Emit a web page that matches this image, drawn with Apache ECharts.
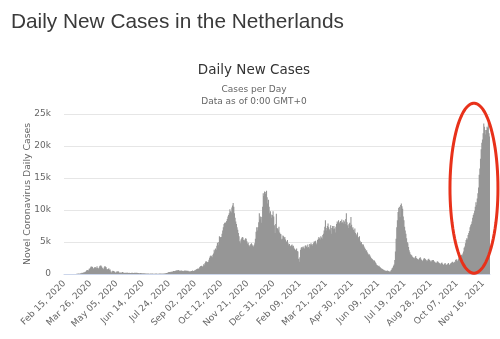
<!DOCTYPE html>
<html>
<head>
<meta charset="utf-8">
<title>Daily New Cases in the Netherlands</title>
<script src="https://cdn.jsdelivr.net/npm/echarts@6/dist/echarts.min.js"></script>
<style>
  html, body { margin: 0; padding: 0; background: #ffffff; }
  #chart { width: 500px; height: 339px; }
</style>
</head>
<body>
<div id="chart"></div>
<script>
// First day of the series (UTC); one value per day after that.
const startDate = Date.UTC(2020, 1, 15);

// Daily new cases, month by month
const cases2020Feb = [0,0,0,0,0,0,0,0,0,0,0,0,1,1,5];
const cases2020Mar = [6,8,5,14,44,46,60,77,56,61,121,111,190,155,176,278,292,346,409,534,637,573,545,811,852,1019,1172,1159,1104,884,845];
const cases2020Apr = [1019,1083,1026,904,1224,952,777,969,1213,1335,1316,1174,964,868,734,1061,1235,1140,1066,750,729,797,887,655,708,400,171,386,514,475];
const cases2020May = [445,335,232,199,387,319,455,335,228,145,232,233,235,319,244,196,154,176,193,165,235,170,171,187,139,143,165,196,211,144,172];
const cases2020Jun = [184,130,209,176,194,142,157,119,131,165,146,106,108,107,120,72,129,91,60,88,61,70,77,56,51,69,57,61,69,44];
const cases2020Jul = [52,46,61,47,84,54,39,34,65,72,68,49,83,41,59,90,68,135,100,150,160,210,260,330,300,280,340,360,390,410,450];
const cases2020Aug = [470,420,500,560,600,540,610,580,520,470,540,560,510,480,430,500,540,520,560,470,490,520,430,390,420,400,460,480,540,480,450];
const cases2020Sep = [560,600,650,730,800,870,780,900,1100,1230,1250,1300,1150,1200,1540,1370,1700,1970,2000,1890,1820,1900,2230,2540,2780,2900,2760,2610,3000,3200];
const cases2020Oct = [3800,3500,4000,3800,4400,4900,4500,5000,5900,5800,5700,5800,6300,6800,7300,7800,8000,8000,8100,8300,8600,9000,9200,9500,10100,9800,9600,10400,10700,11100,10500];
const cases2020Nov = [9500,8800,8200,7800,7300,6900,6400,5900,5100,4800,5400,5600,5800,5700,5300,5200,5400,5600,5500,5100,4700,4900,4500,4300,4500,4700,4800,4600,4400,4200];
const cases2020Dec = [4500,4800,5500,6600,7300,6800,7300,8100,9500,8500,9000,8000,8900,10500,12600,12200,12900,12500,12800,13000,12000,11000,11600,10500,9500,9800,9300,8800,9200,9800,9000];
const cases2021Jan = [7600,6400,7800,9400,7200,7100,6800,7400,6500,6300,6200,5400,5500,6000,5900,5600,5800,5400,5000,5100,5300,4800,4500,4700,4400,4300,4500,4600,4300,4400,4100];
const cases2021Feb = [3900,3700,3800,4000,3600,3500,2400,1900,2600,3800,4100,4200,4000,4300,4100,3900,4400,4500,4300,4100,4600,4200,4000,4700,4500,4800,4600,4400];
const cases2021Mar = [4700,4900,5100,5000,5200,4800,4600,5300,5500,5800,5600,5400,5900,5700,5500,6100,6300,6800,7400,8400,7200,6800,7500,7900,7300,7000,6800,7600,6300,7200,7500];
const cases2021Apr = [7000,7500,7100,6500,7400,7800,8200,8000,8400,8100,7900,8300,8000,8500,8100,7900,8400,8200,7800,8600,9500,8100,7600,7200,7800,8000,7500,8900,7700,7100];
const cases2021May = [7300,6900,6600,7100,6400,6200,6000,6500,5800,5600,5900,5200,4900,5000,4700,4500,4600,4300,4100,3900,3600,3700,3400,3200,3000,3100,2900,2700,2500,2400,2300];
const cases2021Jun = [2200,2000,2100,1900,1700,1500,1400,1300,1200,1300,1100,1000,900,850,800,700,650,600,550,520,500,480,560,470,420,380,360,550,650,900];
const cases2021Jul = [1000,1300,1500,2200,3500,5500,7300,8400,9700,10300,10500,8900,10800,11000,10600,10200,9000,8400,7400,6800,6300,5600,5000,4800,4200,3700,3400,3100,3000,2900,2700];
const cases2021Aug = [2600,2500,2400,2600,2800,2500,2300,2400,2200,2300,2500,2600,2400,2200,2100,2000,2300,2500,2400,2300,2200,2000,2100,2300,2400,2200,2100,1900,2000,2200,2100];
const cases2021Sep = [2200,2000,1900,1800,1700,1800,2000,1900,1800,1700,1600,1500,1700,1800,1600,1500,1400,1600,1700,1500,1400,1500,1600,1700,1500,1400,1600,1700,1800,1900];
const cases2021Oct = [1800,1700,1900,1800,2200,2300,2100,2000,2300,2600,2500,2400,2800,3000,2900,3200,3500,4100,4300,4800,5300,5600,5400,6100,6400,6700,7300,7600,7800,8200,8800];
const cases2021Nov = [9200,9500,9900,10500,11200,10800,11800,12600,13500,15500,16500,18000,19500,20500,21000,22000,23500,23000,22500,21800,22500,23000,22800,23600,22000,21500];

// Dates that carry a label on the x axis
const xTickLabels = ['Feb 15, 2020','Mar 26, 2020','May 05, 2020','Jun 14, 2020','Jul 24, 2020','Sep 02, 2020','Oct 12, 2020','Nov 21, 2020','Dec 31, 2020','Feb 09, 2021','Mar 21, 2021','Apr 30, 2021','Jun 09, 2021','Jul 19, 2021','Aug 28, 2021','Oct 07, 2021','Nov 16, 2021'];
// Value-axis ticks
const yTicks = [0, 5000, 10000, 15000, 20000, 25000];
const yTickLabels = ['0', '5k', '10k', '15k', '20k', '25k'];

const dailyCases = [].concat(
  cases2020Feb, cases2020Mar, cases2020Apr, cases2020May, cases2020Jun, cases2020Jul,
  cases2020Aug, cases2020Sep, cases2020Oct, cases2020Nov, cases2020Dec,
  cases2021Jan, cases2021Feb, cases2021Mar, cases2021Apr, cases2021May, cases2021Jun,
  cases2021Jul, cases2021Aug, cases2021Sep, cases2021Oct, cases2021Nov
);

const monthNames = ['Jan','Feb','Mar','Apr','May','Jun','Jul','Aug','Sep','Oct','Nov','Dec'];
function formatDay(t) {
  const d = new Date(t);
  return monthNames[d.getUTCMonth()] + ' ' + String(d.getUTCDate()).padStart(2, '0') + ', ' + d.getUTCFullYear();
}
const dayLabels = dailyCases.map((_, i) => formatDay(startDate + i * 86400000));

const uiFont = '"DejaVu Sans", Verdana, sans-serif';
const chart = echarts.init(document.getElementById('chart'));

chart.setOption({
  animation: false,
  backgroundColor: '#ffffff',
  title: [
    { text: 'Daily New Cases in the Netherlands', left: 6, top: 7,
      textStyle: { fontFamily: '"Liberation Sans", Arial, sans-serif', fontSize: 20.8, fontWeight: 'normal', color: '#3a3a3a' } },
    { text: 'Daily New Cases', left: 249, top: 58, textAlign: 'center',
      textStyle: { fontFamily: uiFont, fontSize: 13.5, fontWeight: 'normal', color: '#333' } },
    { text: 'Cases per Day', left: 249, top: 80, textAlign: 'center',
      textStyle: { fontFamily: uiFont, fontSize: 9, fontWeight: 'normal', color: '#666' } },
    { text: 'Data as of 0:00 GMT+0', left: 249, top: 92, textAlign: 'center',
      textStyle: { fontFamily: uiFont, fontSize: 9, fontWeight: 'normal', color: '#666' } }
  ],
  grid: { left: 64, right: 10, top: 114, bottom: 65 },
  xAxis: {
    type: 'category',
    data: dayLabels,
    boundaryGap: true,
    axisLine: { lineStyle: { color: '#ccd6eb' } },
    axisTick: { show: false },
    axisLabel: {
      interval: (idx, val) => xTickLabels.indexOf(val) !== -1,
      rotate: 45,
      margin: 8,
      fontFamily: uiFont,
      fontSize: 9,
      color: '#666'
    },
    splitLine: { show: false }
  },
  yAxis: {
    type: 'value',
    min: yTicks[0],
    max: yTicks[yTicks.length - 1],
    interval: yTicks[1] - yTicks[0],
    name: 'Novel Coronavirus Daily Cases',
    nameLocation: 'middle',
    nameGap: 32,
    nameMoveOverlap: false,
    nameTextStyle: { fontFamily: uiFont, fontSize: 9.3, color: '#666' },
    axisLine: { show: false },
    axisTick: { show: false },
    axisLabel: {
      margin: 13,
      fontFamily: uiFont,
      fontSize: 9,
      color: '#666',
      formatter: v => yTickLabels[yTicks.indexOf(v)]
    },
    splitLine: { lineStyle: { color: '#e6e6e6', width: 1 } }
  },
  series: [{
    name: 'Daily Cases',
    type: 'bar',
    data: dailyCases,
    large: true,
    largeThreshold: 100,
    barWidth: 1.1,
    itemStyle: { color: '#969696' },
    silent: true
  }]
});

// Red highlight ring around the latest wave, placed in data coordinates
function drawHighlight() {
  const centre = chart.convertToPixel({ gridIndex: 0 }, [626, 13400]);
  const rx = 24, ry = 85;
  const pts = [];
  for (let k = 0; k < 90; k++) {
    const a = (k / 90) * Math.PI * 2;
    pts.push([centre[0] + rx * Math.cos(a), centre[1] + ry * Math.sin(a)]);
  }
  chart.setOption({
    graphic: [{
      type: 'polygon',
      shape: { points: pts, smooth: 0 },
      style: { fill: 'none', stroke: '#e8311a', lineWidth: 3 },
      z: 100
    }]
  });
}
drawHighlight();
</script>
</body>
</html>
